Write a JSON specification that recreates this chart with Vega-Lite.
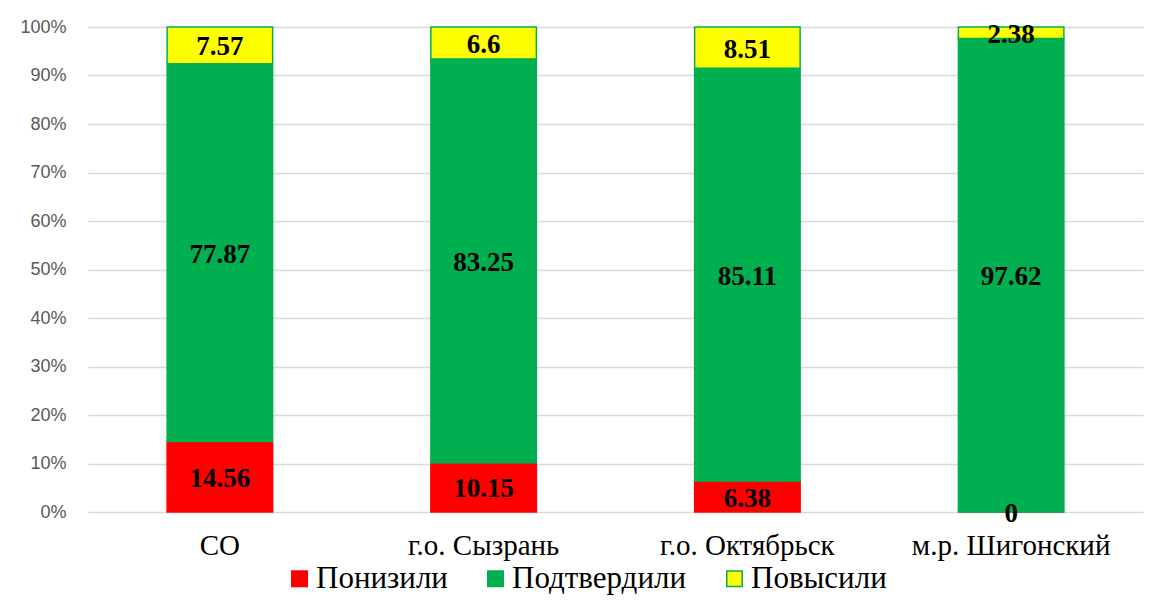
{
  "$schema": "https://vega.github.io/schema/vega-lite/v6.json",
  "autosize": {"type": "none"},
  "width": 1055,
  "height": 485,
  "padding": {"left": 88, "top": 27, "right": 7, "bottom": 97},
  "background": "white",
  "data": {
    "values": [
      {"region": "СО", "group": "Понизили", "value": 14.56},
      {"region": "СО", "group": "Подтвердили", "value": 77.87},
      {"region": "СО", "group": "Повысили", "value": 7.57},
      {"region": "г.о. Сызрань", "group": "Понизили", "value": 10.15},
      {"region": "г.о. Сызрань", "group": "Подтвердили", "value": 83.25},
      {"region": "г.о. Сызрань", "group": "Повысили", "value": 6.6},
      {"region": "г.о. Октябрьск", "group": "Понизили", "value": 6.38},
      {"region": "г.о. Октябрьск", "group": "Подтвердили", "value": 85.11},
      {"region": "г.о. Октябрьск", "group": "Повысили", "value": 8.51},
      {"region": "м.р. Шигонский", "group": "Понизили", "value": 0},
      {"region": "м.р. Шигонский", "group": "Подтвердили", "value": 97.62},
      {"region": "м.р. Шигонский", "group": "Повысили", "value": 2.38}
    ]
  },
  "config": {
    "font": "Liberation Serif",
    "axisX": {
      "title": null, "labelAngle": 0, "domain": false, "ticks": false, "grid": false,
      "labelFont": "Liberation Serif", "labelFontSize": 29, "labelColor": "#000000",
      "labelPadding": 19, "labelLimit": 400
    },
    "axisY": {
      "title": null, "domain": false, "ticks": false, "grid": true,
      "gridColor": "#d9d9d9", "gridWidth": 1.5,
      "labelFont": "Liberation Sans", "labelFontSize": 18, "labelColor": "#595959", "labelPadding": 22
    },
    "legend": {"labelFont": "Liberation Serif"},
    "view": {"stroke": null}
  },
  "layer": [
    {
      "mark": {"type": "bar", "strokeWidth": 1.5},
      "encoding": {
        "x": {
          "field": "region", "type": "nominal", "sort": null,
          "scale": {"paddingInner": 0.6, "paddingOuter": 0.3},
          "axis": {"title": null, "labelFont": "Liberation Serif"}
        },
        "y": {
          "field": "value", "type": "quantitative", "stack": "normalize",
          "scale": {"domain": [0, 1]},
          "axis": {"title": null, "format": ".0%", "labelFont": "Liberation Sans", "values": [0, 0.1, 0.2, 0.3, 0.4, 0.5, 0.6, 0.7, 0.8, 0.9, 1]}
        },
        "order": {"field": "group", "sort": "descending"},
        "color": {
          "field": "group", "type": "nominal",
          "sort": ["Понизили", "Подтвердили", "Повысили"],
          "scale": {"domain": ["Понизили", "Подтвердили", "Повысили"], "range": ["#ff0000", "#00b050", "#ffff00"]},
          "legend": {
            "title": null, "orient": "none", "legendX": 196, "legendY": 536, "direction": "horizontal",
            "symbolType": "square", "symbolSize": 240, "symbolStrokeWidth": 1.5,
            "labelFont": "Liberation Serif", "labelFontSize": 31, "labelColor": "#000000",
            "columnPadding": 32, "labelOffset": 1, "labelLimit": 400
          }
        },
        "stroke": {
          "field": "group", "type": "nominal",
          "sort": ["Понизили", "Подтвердили", "Повысили"],
          "scale": {"domain": ["Понизили", "Подтвердили", "Повысили"], "range": ["#ff0000", "#00b050", "#00b050"]},
          "legend": {
            "title": null, "orient": "none", "legendX": 196, "legendY": 536, "direction": "horizontal",
            "symbolType": "square", "symbolSize": 240, "symbolStrokeWidth": 1.5,
            "labelFont": "Liberation Serif", "labelFontSize": 31, "labelColor": "#000000",
            "columnPadding": 32, "labelOffset": 1, "labelLimit": 400
          }
        }
      }
    },
    {
      "mark": {"type": "text", "font": "Liberation Serif", "fontWeight": "bold", "fontSize": 27, "color": "#000000", "baseline": "middle", "dy": 2},
      "encoding": {
        "x": {"field": "region", "type": "nominal", "sort": null},
        "y": {"field": "value", "type": "quantitative", "stack": "normalize", "bandPosition": 0.5},
        "order": {"field": "group", "sort": "descending"},
        "detail": {"field": "group", "type": "nominal"},
        "text": {"field": "value", "type": "nominal"}
      }
    }
  ]
}
